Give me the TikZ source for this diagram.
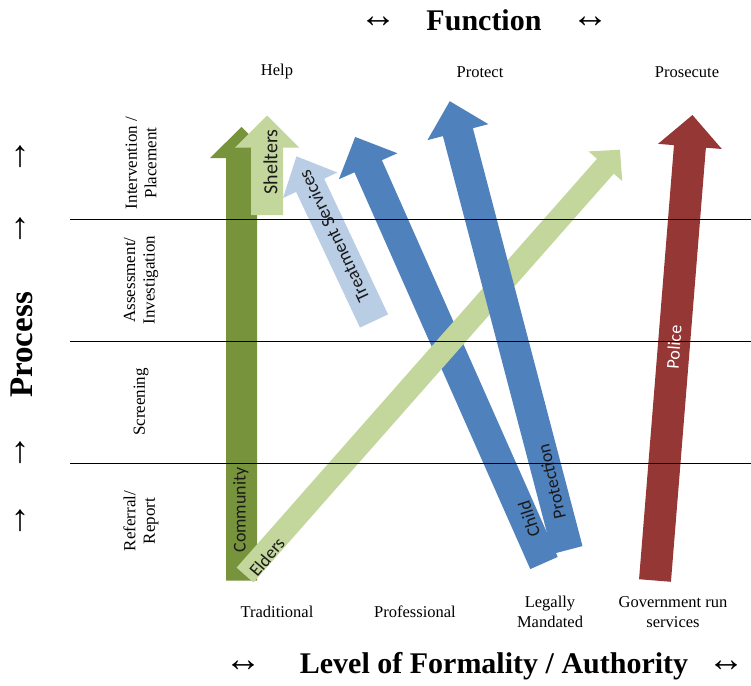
\documentclass[tikz,border=0pt]{standalone}
\usepackage{fontspec}
\setmainfont{Liberation Serif}
\newfontfamily\arrowfont{Carlito}
\definecolor{commgreen}{HTML}{77933C}
\definecolor{palegreen}{HTML}{C3D69B}
\definecolor{paleblue}{HTML}{B9CDE5}
\definecolor{cpblue}{HTML}{4F81BD}
\definecolor{policered}{HTML}{953735}
\definecolor{labelink}{HTML}{1A1A1A}

% block arrow: colour, tail x, tail y, angle, length, shaft half-width, head half-width, head length
\newcommand{\fatarrow}[8]{%
  \fill[#1, shift={(#2,#3)}, rotate=#4]
    (0,-#6) -- ({#5-#8},-#6) -- ({#5-#8},-#7) -- (#5,0)
    -- ({#5-#8},#7) -- ({#5-#8},#6) -- (0,#6) -- cycle;}

\begin{document}
\begin{tikzpicture}[x=1pt,y=-1pt,
  axistitle/.style={font=\fontsize{30}{30}\selectfont\bfseries, inner sep=0pt},
  dirglyph/.style={font=\fontsize{37}{37}\selectfont, inner sep=0pt},
  colhead/.style={font=\fontsize{16.5}{19.5}\selectfont, align=center, inner sep=0pt},
  stagelabel/.style={font=\fontsize{17}{19.5}\selectfont, align=center, inner sep=0pt, rotate=90},
  arrowlabel/.style={font=\arrowfont\fontsize{18}{21}\selectfont, text=labelink, inner sep=0pt},
  divider/.style={line width=0.9pt, black}]

\useasboundingbox (0,0) rectangle (751,685);
\fill[white] (0,0) rectangle (751,685);

% service arrows, back to front
\fatarrow{commgreen}{241.5}{580.5}{90}{453.5}{15.5}{31.5}{31}
\fatarrow{palegreen}{267}{215}{90}{99.5}{16}{32}{32}
\fatarrow{paleblue}{374}{321}{115.2}{182}{15.5}{30}{32}
\fatarrow{cpblue}{544}{563}{113.9}{466}{15}{32}{32}
\fatarrow{palegreen}{245}{575}{48.6}{567}{11.2}{22.4}{22}
\fatarrow{cpblue}{567.5}{550}{104.7}{464}{15.5}{31.5}{32}
\fatarrow{policered}{655}{580.5}{85.4}{467}{16}{32}{31.5}

% labels on the arrows
\node[arrowlabel, rotate=90] (community) at (241,510) {Community};
\node[arrowlabel, rotate=90, font=\arrowfont\fontsize{20}{22}\selectfont] (shelters) at (270.5,162) {Shelters};
\node[arrowlabel, rotate=115.2, font=\arrowfont\fontsize{18.5}{21}\selectfont] (treatment) at (334,236) {Treatment Services};
\node[arrowlabel, rotate=50] (elders) at (267,557) {Elders};
\node[arrowlabel, rotate=108] (child) at (529,519) {Child};
\node[arrowlabel, rotate=103] (protection) at (551.5,481.5) {Protection};
\node[arrowlabel, rotate=86, text=white] (police) at (674,347) {Police};

% stage dividers
\draw[divider] (70,219) -- (751,219);
\draw[divider] (70,341) -- (751,341);
\draw[divider] (70,463) -- (751,463);

% function axis
\node[dirglyph] (fl) at (378,22) {↔};
\node[axistitle] (function) at (484,20) {Function};
\node[dirglyph] (fr) at (590,22) {↔};
\node[colhead] (help) at (277,72) {Help};
\node[colhead] (protect) at (480,72) {Protect};
\node[colhead] (prosecute) at (687,72) {Prosecute};

% process axis
\node[axistitle, rotate=90, font=\fontsize{33}{33}\selectfont\bfseries] (process) at (22,345) {Process};
\node[dirglyph] (p1) at (20,157) {↑};
\node[dirglyph] (p2) at (20,229) {↑};
\node[dirglyph] (p3) at (20,453) {↑};
\node[dirglyph] (p4) at (20,521) {↑};
\node[stagelabel] (intervention) at (141,163) {Intervention /\\Placement};
\node[stagelabel] (assessment) at (141,280) {Assessment/\\Investigation};
\node[stagelabel] (screening) at (141,402) {Screening};
\node[stagelabel] (referral) at (141,521) {Referral/\\Report};

% formality axis
\node[colhead] (traditional) at (277,612) {Traditional};
\node[colhead] (professional) at (415,612) {Professional};
\node[colhead] (legal) at (550,612) {Legally\\Mandated};
\node[colhead] (government) at (673,612) {Government run\\services};
\node[dirglyph] (bl) at (243,666) {↔};
\node[axistitle] (formality) at (494,666) {Level of Formality / Authority};
\node[dirglyph] (br) at (726,666) {↔};

\end{tikzpicture}
\end{document}
